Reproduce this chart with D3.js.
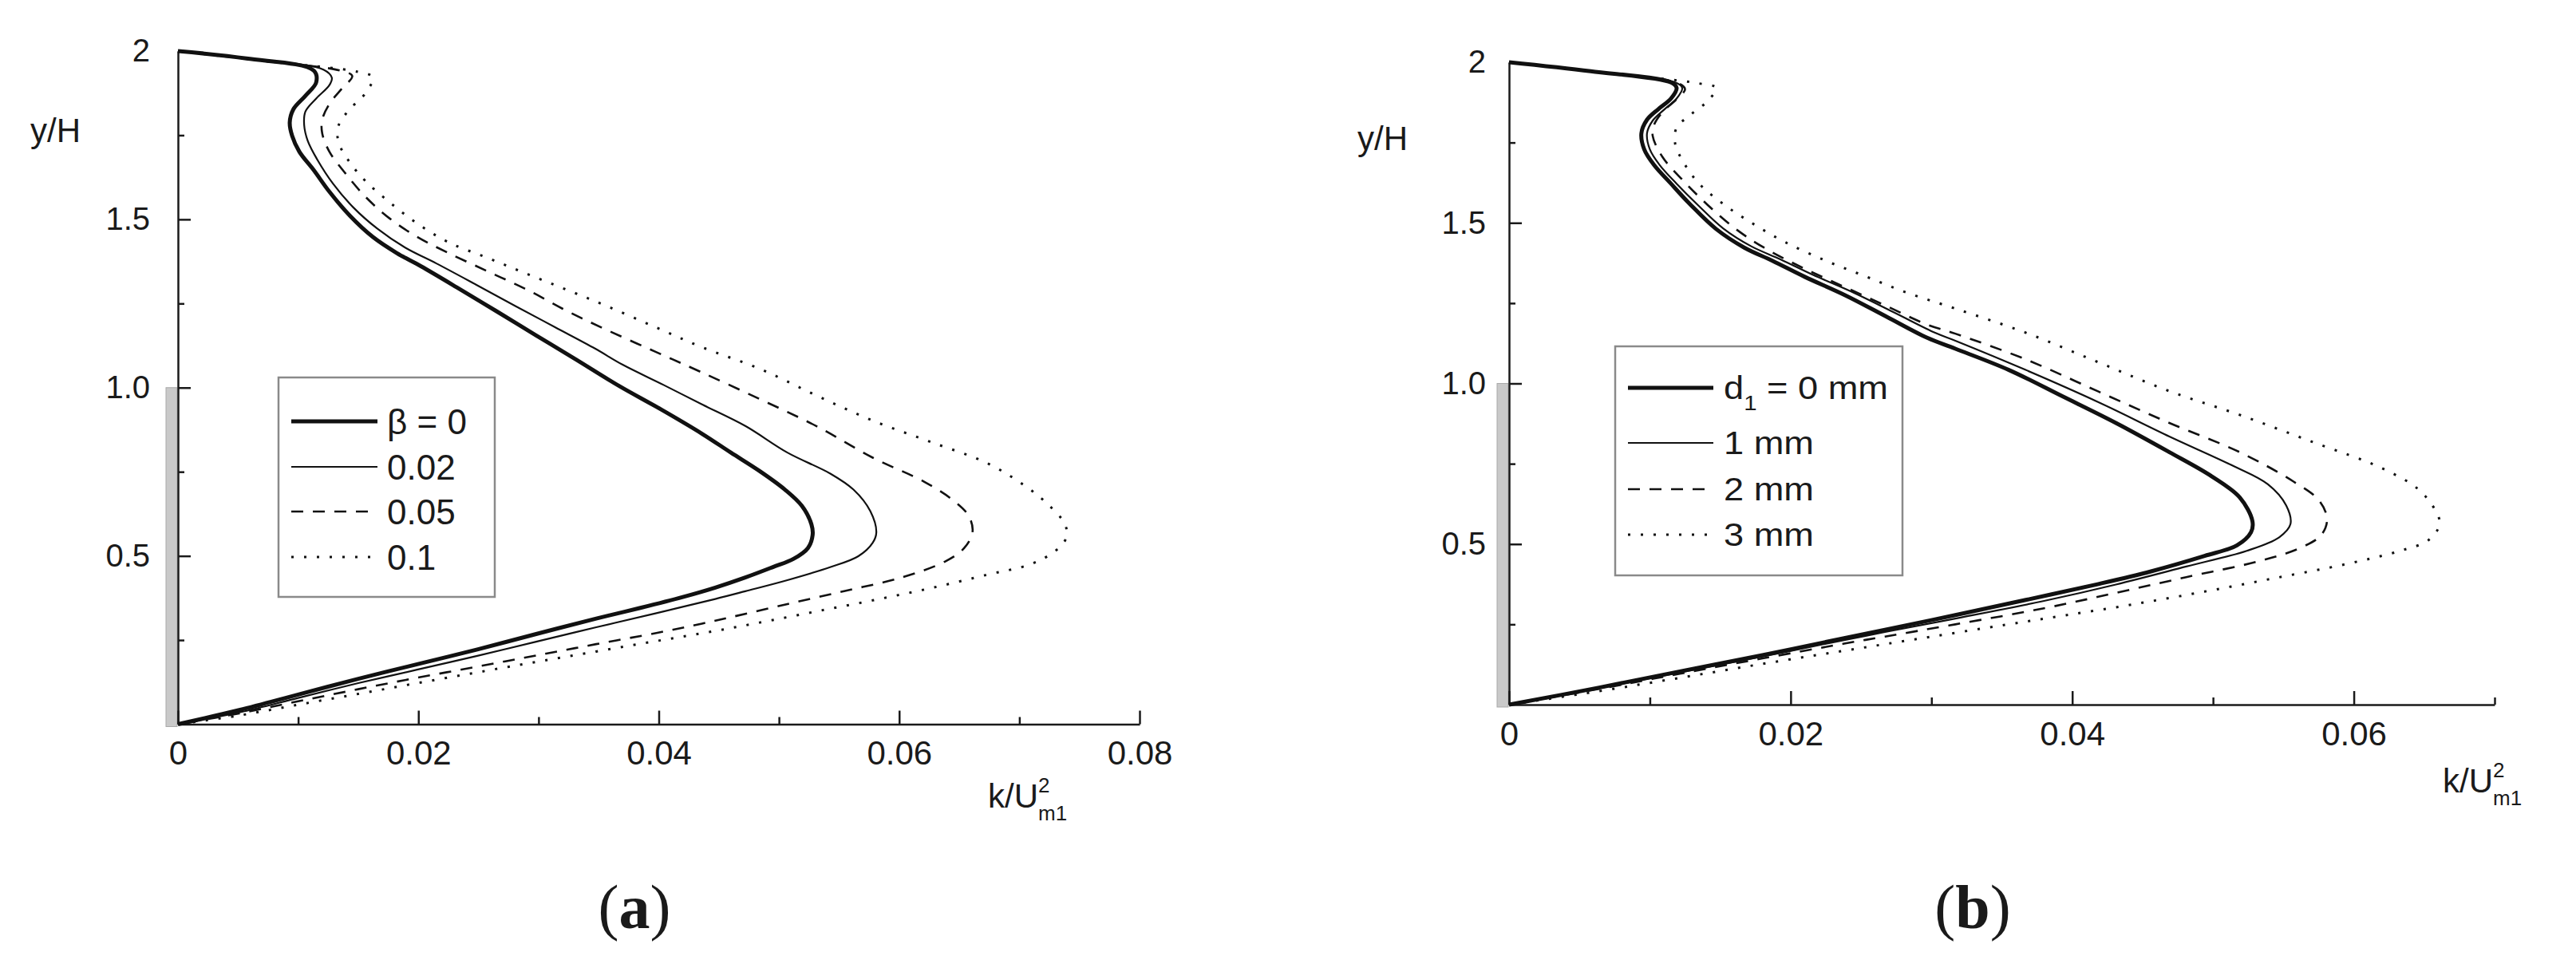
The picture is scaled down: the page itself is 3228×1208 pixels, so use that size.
<!DOCTYPE html>
<html>
<head>
<meta charset="utf-8">
<script src="https://cdn.jsdelivr.net/npm/d3@7"></script>
<style>
body { margin: 0; background: #fff; }
svg text { font-family: "Liberation Sans", Arial, sans-serif; fill: #1a1a1a; }
</style>
</head>
<body>
<svg id="chart" width="3228" height="1208"></svg>
<script>
// (a) turbulent kinetic energy profiles k/Um1^2 vs y/H, different beta
const kBeta0 = [[0,2],[0.0057,1.978],[0.0113,1.942],[0.0115,1.907],[0.0106,1.867],[0.0096,1.827],[0.0093,1.788],[0.0095,1.748],[0.0101,1.701],[0.0113,1.646],[0.0126,1.582],[0.0143,1.511],[0.0162,1.448],[0.0182,1.400],[0.0202,1.361],[0.0232,1.298],[0.0265,1.227],[0.0298,1.155],[0.0331,1.084],[0.0367,1.005],[0.0402,0.935],[0.0436,0.863],[0.0460,0.807],[0.0484,0.752],[0.0505,0.697],[0.0519,0.649],[0.0527,0.594],[0.0528,0.562],[0.0524,0.523],[0.0512,0.491],[0.0495,0.467],[0.0472,0.436],[0.0447,0.406],[0.0420,0.378],[0.0384,0.345],[0.0348,0.314],[0.0298,0.268],[0.0249,0.222],[0.0199,0.178],[0.0150,0.135],[0.0100,0.088],[0.0051,0.042],[0,0]];
const kBeta002 = [[0,2],[0.0060,1.976],[0.0121,1.945],[0.0128,1.921],[0.0126,1.899],[0.0115,1.859],[0.0106,1.820],[0.0105,1.780],[0.0108,1.733],[0.0116,1.677],[0.0129,1.606],[0.0146,1.535],[0.0166,1.472],[0.0189,1.416],[0.0215,1.369],[0.0248,1.306],[0.0281,1.242],[0.0314,1.179],[0.0347,1.116],[0.0370,1.068],[0.0404,1.008],[0.0436,0.950],[0.0472,0.886],[0.0507,0.807],[0.0543,0.744],[0.0562,0.697],[0.0576,0.633],[0.0581,0.570],[0.0578,0.539],[0.0566,0.499],[0.0543,0.467],[0.0507,0.428],[0.0472,0.395],[0.0447,0.372],[0.0398,0.330],[0.0348,0.288],[0.0298,0.245],[0.0249,0.203],[0.0199,0.162],[0.0150,0.122],[0.0100,0.078],[0.0051,0.035],[0,0]];
const kBeta005 = [[0,2],[0.0068,1.972],[0.0135,1.942],[0.0145,1.926],[0.0136,1.887],[0.0126,1.843],[0.0120,1.796],[0.0120,1.756],[0.0126,1.701],[0.0139,1.638],[0.0156,1.567],[0.0176,1.503],[0.0199,1.448],[0.0225,1.400],[0.0258,1.345],[0.0291,1.290],[0.0324,1.227],[0.0357,1.171],[0.0397,1.107],[0.0436,1.045],[0.0484,0.966],[0.0531,0.886],[0.0578,0.792],[0.0621,0.720],[0.0645,0.665],[0.0658,0.618],[0.0661,0.570],[0.0654,0.523],[0.0638,0.483],[0.0602,0.436],[0.0555,0.396],[0.0507,0.357],[0.0460,0.318],[0.0436,0.299],[0.0398,0.271],[0.0348,0.238],[0.0298,0.204],[0.0249,0.171],[0.0199,0.138],[0.0150,0.104],[0.0100,0.068],[0.0051,0.032],[0,0]];
const kBeta01 = [[0,2],[0.0078,1.968],[0.0150,1.938],[0.0162,1.922],[0.0156,1.875],[0.0141,1.820],[0.0133,1.772],[0.0134,1.725],[0.0143,1.669],[0.0156,1.614],[0.0176,1.551],[0.0199,1.488],[0.0225,1.432],[0.0258,1.385],[0.0291,1.337],[0.0324,1.290],[0.0357,1.242],[0.0397,1.180],[0.0436,1.120],[0.0484,1.056],[0.0531,0.977],[0.0578,0.902],[0.0626,0.839],[0.0673,0.776],[0.0706,0.705],[0.0725,0.649],[0.0738,0.594],[0.0739,0.554],[0.0730,0.515],[0.0709,0.475],[0.0673,0.444],[0.0626,0.404],[0.0578,0.368],[0.0531,0.335],[0.0484,0.302],[0.0447,0.277],[0.0398,0.247],[0.0348,0.216],[0.0298,0.185],[0.0249,0.154],[0.0199,0.122],[0.0150,0.090],[0.0100,0.058],[0.0051,0.026],[0,0]];
const betaLabels = ['0', '0.02', '0.05', '0.1'];

// (b) same profiles, different d1
const kD0 = [[0,2],[0.0058,1.972],[0.0115,1.937],[0.0119,1.920],[0.0115,1.887],[0.0106,1.854],[0.0098,1.821],[0.0094,1.779],[0.0096,1.729],[0.0103,1.680],[0.0115,1.622],[0.0129,1.556],[0.0147,1.481],[0.0167,1.423],[0.0187,1.382],[0.0210,1.332],[0.0239,1.274],[0.0268,1.208],[0.0297,1.142],[0.0317,1.108],[0.0355,1.042],[0.0393,0.960],[0.0431,0.877],[0.0469,0.786],[0.0499,0.711],[0.0519,0.645],[0.0528,0.571],[0.0527,0.537],[0.0517,0.496],[0.0494,0.463],[0.0456,0.415],[0.0418,0.375],[0.0367,0.326],[0.0317,0.279],[0.0267,0.233],[0.0238,0.207],[0.0180,0.154],[0.0122,0.104],[0.0064,0.053],[0,0]];
const kD1 = [[0,2],[0.0060,1.970],[0.0118,1.937],[0.0123,1.920],[0.0119,1.887],[0.0110,1.852],[0.0102,1.818],[0.0098,1.779],[0.0100,1.729],[0.0107,1.680],[0.0119,1.622],[0.0134,1.556],[0.0152,1.483],[0.0172,1.427],[0.0193,1.386],[0.0216,1.338],[0.0245,1.282],[0.0274,1.220],[0.0303,1.157],[0.0317,1.133],[0.0367,1.042],[0.0418,0.943],[0.0469,0.835],[0.0514,0.744],[0.0539,0.686],[0.0552,0.620],[0.0555,0.562],[0.0547,0.521],[0.0524,0.479],[0.0481,0.430],[0.0431,0.374],[0.0380,0.323],[0.0317,0.268],[0.0267,0.226],[0.0238,0.201],[0.0180,0.150],[0.0122,0.101],[0.0064,0.051],[0,0]];
const kD2 = [[0,2],[0.0062,1.969],[0.0120,1.935],[0.0125,1.916],[0.0119,1.885],[0.0109,1.845],[0.0103,1.805],[0.0102,1.771],[0.0109,1.705],[0.0124,1.630],[0.0141,1.556],[0.0161,1.481],[0.0181,1.423],[0.0210,1.357],[0.0239,1.299],[0.0268,1.241],[0.0297,1.183],[0.0317,1.155],[0.0367,1.075],[0.0418,0.976],[0.0469,0.877],[0.0519,0.786],[0.0557,0.695],[0.0575,0.637],[0.0581,0.579],[0.0577,0.529],[0.0562,0.488],[0.0532,0.446],[0.0481,0.397],[0.0431,0.348],[0.0380,0.300],[0.0317,0.250],[0.0267,0.212],[0.0238,0.190],[0.0180,0.144],[0.0122,0.097],[0.0064,0.049],[0,0]];
const kD3 = [[0,2],[0.0070,1.966],[0.0135,1.934],[0.0147,1.920],[0.0141,1.879],[0.0129,1.837],[0.0119,1.796],[0.0118,1.746],[0.0124,1.688],[0.0135,1.622],[0.0153,1.556],[0.0173,1.498],[0.0196,1.440],[0.0225,1.382],[0.0254,1.332],[0.0283,1.282],[0.0317,1.233],[0.0367,1.158],[0.0418,1.067],[0.0469,0.976],[0.0519,0.902],[0.0570,0.819],[0.0620,0.736],[0.0646,0.670],[0.0658,0.604],[0.0661,0.562],[0.0653,0.512],[0.0633,0.479],[0.0595,0.438],[0.0544,0.394],[0.0494,0.352],[0.0443,0.312],[0.0395,0.278],[0.0353,0.249],[0.0295,0.208],[0.0238,0.168],[0.0180,0.127],[0.0122,0.084],[0.0064,0.042],[0,0]];
const d1Labels = ['0 mm', '1 mm', '2 mm', '3 mm'];

const yTicksMajor = [0.5, 1.0, 1.5, 2];
const yTicksMinor = [0.25, 0.75, 1.25, 1.75];
const xTicksMajorA = [0, 0.02, 0.04, 0.06, 0.08];
const xTicksMajorB = [0, 0.02, 0.04, 0.06];
const xTicksMinor = [0.01, 0.03, 0.05, 0.07];
const wallTop = 1.0;

const lineStyles = [
    {width: 5, dash: null},
    {width: 2.2, dash: null},
    {width: 2.6, dash: '15,12'},
    {width: 3, dash: '3,13'}
];

function styleAxis(g, size) {
    g.style('color', '#1a1a1a')
	.attr('font-family', '"Liberation Sans", Arial, sans-serif')
	.attr('font-size', size);
    g.selectAll('line, path').attr('stroke-width', 2.5);
}

function drawPanel(svg, p) {
    const x = d3.scaleLinear().domain([0, p.xMax]).range([p.x0, p.x1]);
    const y = d3.scaleLinear().domain([0, 2]).range([p.y0, p.y2]);
    const g = svg.append('g');

    // wall (grey bar left of the axis)
    g.append('rect')
	.attr('x', p.x0 - 15).attr('y', y(wallTop))
	.attr('width', 14).attr('height', y(0) - y(wallTop) + 3)
	.attr('fill', '#c9c9c9').attr('stroke', '#a9a9a9').attr('stroke-width', 1);

    const xMaj = g.append('g').attr('transform', `translate(0,${p.y0})`)
	  .call(d3.axisBottom(x).tickValues(p.xMajor).tickSize(-17).tickSizeOuter(0).tickPadding(21)
		.tickFormat(d => d === 0 ? '0' : d3.format('.2f')(d)));
    styleAxis(xMaj, 42);
    const xMin = g.append('g').attr('transform', `translate(0,${p.y0})`)
	  .call(d3.axisBottom(x).tickValues(xTicksMinor).tickSize(-9).tickSizeOuter(0).tickFormat(''));
    xMin.select('.domain').remove();
    styleAxis(xMin, 42);

    const yMaj = g.append('g').attr('transform', `translate(${p.x0},0)`)
	  .call(d3.axisLeft(y).tickValues(yTicksMajor).tickSize(-16).tickSizeOuter(0).tickPadding(p.yPad)
		.tickFormat(d => d === 2 ? '2' : d.toFixed(1)));
    yMaj.selectAll('.tick').filter(d => d === 2).select('line').remove();
    styleAxis(yMaj, 40);
    const yMin = g.append('g').attr('transform', `translate(${p.x0},0)`)
	  .call(d3.axisLeft(y).tickValues(yTicksMinor).tickSize(-8).tickSizeOuter(0).tickFormat(''));
    yMin.select('.domain').remove();
    styleAxis(yMin, 40);

    const line = d3.line()
	  .x(d => x(d[0])).y(d => y(d[1]))
	  .curve(d3.curveCatmullRom.alpha(0.5));
    g.append('g').selectAll('path.curve').data(p.series)
	.join('path')
	.attr('class', 'curve')
	.attr('d', line)
	.attr('fill', 'none')
	.attr('stroke', '#111')
	.attr('stroke-linejoin', 'round')
	.attr('stroke-width', (d, i) => lineStyles[i].width)
	.attr('stroke-dasharray', (d, i) => lineStyles[i].dash);

    // axis titles
    g.append('text').attr('x', p.yTitle[0]).attr('y', p.yTitle[1])
	.attr('font-size', 42).text('y/H');
    const xt = g.append('text').attr('x', p.xTitle[0]).attr('y', p.xTitle[1]).attr('font-size', 42);
    xt.append('tspan').text('k/U');
    xt.append('tspan').attr('font-size', 26).attr('dy', -19).text('2');
    xt.append('tspan').attr('font-size', 26).attr('dx', -14.5).attr('dy', 35).text('m1');

    // legend
    const lg = g.append('g');
    lg.append('rect')
	.attr('x', p.legend.x).attr('y', p.legend.y)
	.attr('width', p.legend.w).attr('height', p.legend.h)
	.attr('fill', '#fff').attr('stroke', '#8a8a8a').attr('stroke-width', 2.5);
    p.labels.forEach((lab, i) => {
	const ly = p.legend.rows[i];
	lg.append('line')
	    .attr('x1', p.legend.lx1).attr('x2', p.legend.lx2)
	    .attr('y1', ly).attr('y2', ly)
	    .attr('stroke', '#111')
	    .attr('stroke-width', lineStyles[i].width)
	    .attr('stroke-dasharray', lineStyles[i].dash);
	const t = lg.append('text')
	      .attr('transform', `translate(${p.legend.tx},${ly}) scale(${p.legend.sx},1)`)
	      .attr('dy', '0.36em')
	      .attr('font-size', p.legend.fs);
	if(i === 0)
	    p.legend.prefix(t);
	t.append('tspan').text(lab);
    });

    // panel tag
    const tag = g.append('text')
	  .attr('x', p.tag[0]).attr('y', p.tag[1])
	  .attr('text-anchor', 'middle')
	  .style('font-family', '"Liberation Serif", "Times New Roman", serif')
	  .attr('font-size', 78);
    tag.append('tspan').text('(');
    tag.append('tspan').attr('font-weight', 'bold').text(p.tagText);
    tag.append('tspan').text(')');
}

const svg = d3.select('#chart');

drawPanel(svg, {
    xMax: 0.08, x0: 223, x1: 1428, y0: 907.5, y2: 64,
    xMajor: xTicksMajorA, yPad: 35,
    series: [kBeta0, kBeta002, kBeta005, kBeta01],
    labels: betaLabels,
    yTitle: [38, 178], xTitle: [1238, 1012],
    legend: {x: 349, y: 473, w: 271, h: 275, lx1: 365, lx2: 473, tx: 485, sx: 1, fs: 44,
	     rows: [528, 585, 641, 698],
	     prefix: t => t.append('tspan').text('β = ')},
    tag: [795, 1163], tagText: 'a'
});

drawPanel(svg, {
    xMax: 0.07, x0: 1891, x1: 3126, y0: 883, y2: 78,
    xMajor: xTicksMajorB, yPad: 29,
    series: [kD0, kD1, kD2, kD3],
    labels: d1Labels,
    yTitle: [1701, 188], xTitle: [3061, 993],
    legend: {x: 2024, y: 434, w: 360, h: 287, lx1: 2040, lx2: 2147, tx: 2160, sx: 1.13, fs: 40,
	     rows: [486, 555, 613, 670],
	     prefix: t => {
		 t.append('tspan').text('d');
		 t.append('tspan').attr('font-size', 26).attr('dy', 14).text('1');
		 t.append('tspan').attr('dy', -14).text(' = ');
	     }},
    tag: [2472, 1163], tagText: 'b'
});
</script>
</body>
</html>
